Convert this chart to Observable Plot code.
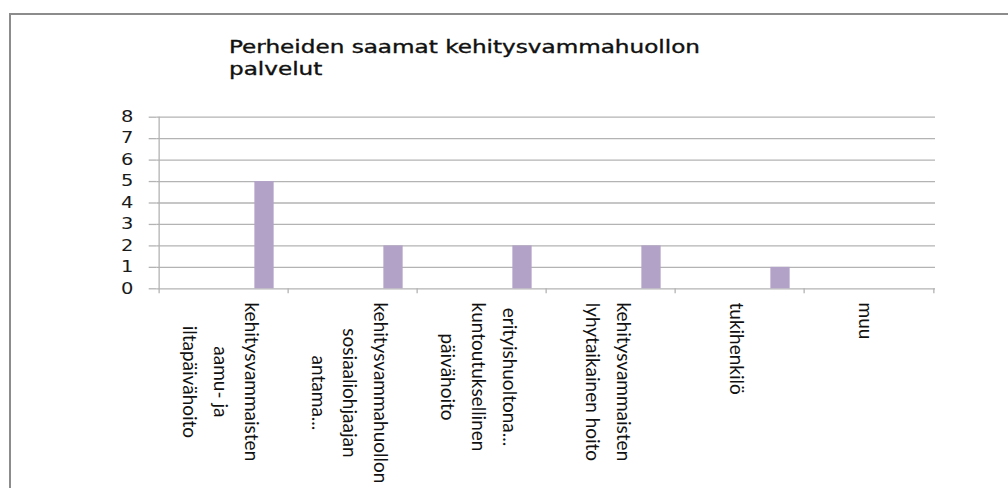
<!DOCTYPE html>
<html><head><meta charset="utf-8">
<script src="https://cdn.jsdelivr.net/npm/d3@7"></script>
<script src="https://cdn.jsdelivr.net/npm/@observablehq/plot@0.6"></script>
<style>
html,body{margin:0;padding:0;background:#fff;overflow:hidden}
#wrap{position:relative;width:1008px;height:488px;overflow:hidden;background:#fff}
#border{position:absolute;left:9px;top:13px;width:1100px;height:600px;border:2px solid #8c8c8c;box-sizing:border-box}
#title{position:absolute;left:229px;top:36px;font-family:"DejaVu Sans";font-size:17px;line-height:22px;color:#111;-webkit-text-stroke:0.35px #111;transform:scaleX(1.36);transform-origin:0 0;white-space:nowrap}
#chart{position:absolute;left:0;top:0}
</style></head><body>
<div id="wrap"><div id="border"></div><div id="title"></div><div id="chart"></div></div>
<script>
const titleLines = ["Perheiden saamat kehitysvammahuollon", "palvelut"];
const categories = [
  "kehitysvammaisten\naamu- ja\niltapäivähoito",
  "kehitysvammahuollon\nsosiaaliohjaajan\nantama...",
  "erityishuoltona...\nkuntoutuksellinen\npäivähoito",
  "kehitysvammaisten\nlyhytaikainen hoito",
  "tukihenkilö",
  "muu"
];
const values = [5, 2, 2, 2, 1, 0];
const yTicks = [0, 1, 2, 3, 4, 5, 6, 7, 8];

document.getElementById("title").innerHTML = titleLines.join("<br>");

const W = 1008, H = 488;
const mL = 156.7, mR = 73, mT = 116.7, mB = H - 288.3;
const bw = (W - mL - mR) / categories.length;
const frameH = H - mT - mB;
const gridColor = "#b3b3b3";
const labelFont = "Lato";
const labelSize = 19;

const data = categories.map((c, i) => ({category: c, value: values[i]}));

const ctx = document.createElement("canvas").getContext("2d");
ctx.font = `${labelSize}px ${labelFont}`;
const maxLen = (s) => Math.max(...s.split("\n").map(l => ctx.measureText(l).width));

const labelMarks = data.map(d => Plot.text([d], {
  x: "category", text: "category", frameAnchor: "bottom",
  rotate: 90, textAnchor: "middle", lineAnchor: "middle", lineHeight: 31 / labelSize,
  fontSize: labelSize, fontFamily: labelFont, fill: "#111",
  dy: 13.7 + maxLen(d.category) / 2
}));

const plot = Plot.plot({
  width: W, height: H,
  marginLeft: mL, marginRight: mR, marginTop: mT, marginBottom: mB,
  style: {fontFamily: "DejaVu Sans", background: "transparent", overflow: "visible"},
  x: {type: "band", domain: categories, padding: 0, axis: null},
  y: {domain: [0, 8], axis: null},
  marks: [
    Plot.gridY(yTicks, {stroke: gridColor, strokeOpacity: 1, strokeWidth: 1.3}),
    Plot.axisY(yTicks, {tickSize: 8, tickPadding: 16, stroke: gridColor, strokeWidth: 1.3,
      fontSize: 15, fill: "#1a1a1a", label: null, tickFormat: d => String(d)}),
    Plot.ruleX([categories[0]], {x: d => d, dx: -bw / 2, stroke: gridColor, strokeWidth: 1.3, insetBottom: -5}),
    Plot.ruleX(categories.slice(1), {x: d => d, dx: -bw / 2, stroke: gridColor, strokeWidth: 1.3, insetTop: frameH, insetBottom: -5}),
    Plot.ruleX([categories[categories.length - 1]], {x: d => d, dx: bw / 2, stroke: gridColor, strokeWidth: 1.3, insetTop: frameH, insetBottom: -5}),
    Plot.barY(data, {x: "category", y: "value", fill: "#b3a2c7", insetLeft: bw / 2 + 30.5, insetRight: bw / 2 - 50.5}),
    ...labelMarks
  ]
});
document.getElementById("chart").append(plot);

// widen the y tick labels horizontally (the reference font is wide)
const svg = d3.select(plot.tagName === "svg" ? plot : plot.querySelector("svg"));
svg.selectAll('g[aria-label="y-axis tick label"]').each(function () {
  const g = this;
  const wrapper = document.createElementNS("http://www.w3.org/2000/svg", "g");
  const ax = mL - 8 - 16;
  wrapper.setAttribute("transform", `translate(${ax},0) scale(1.3,1) translate(${-ax},0)`);
  g.parentNode.insertBefore(wrapper, g);
  wrapper.appendChild(g);
});
</script>
</body></html>
